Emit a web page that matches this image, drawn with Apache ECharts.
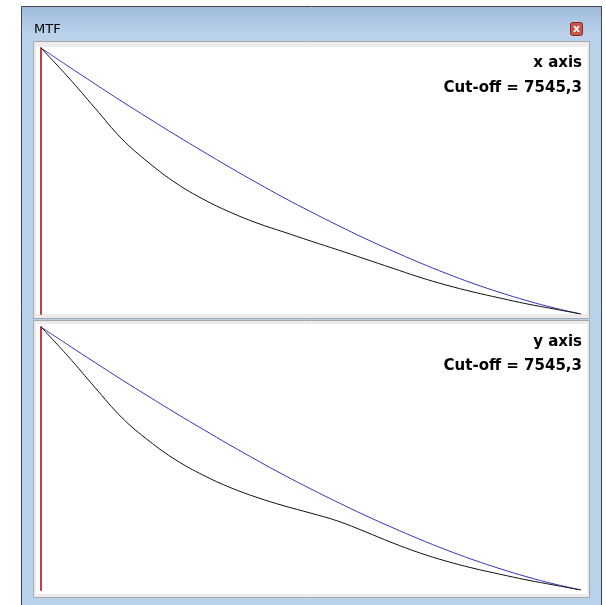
<!DOCTYPE html>
<html>
<head>
<meta charset="utf-8">
<script src="https://cdn.jsdelivr.net/npm/echarts@6/dist/echarts.min.js"></script>
<style>
html,body{margin:0;padding:0;background:#fff;}
#c{width:606px;height:605px;}
</style>
</head>
<body>
<div id="c"></div>
<script>
// normalized spatial frequency (fraction of cut-off)
var freq = [0,0.05,0.1,0.15,0.2,0.25,0.3,0.35,0.4,0.45,0.5,0.55,0.6,0.65,0.7,0.75,0.8,0.85,0.9,0.95,1.0];
// x axis panel
var xMeasured = [1.000,0.891,0.774,0.658,0.568,0.492,0.432,0.383,0.342,0.308,0.274,0.241,0.207,0.173,0.139,0.109,0.083,0.060,0.038,0.019,0.0];
var xIdeal    = [1.000,0.932,0.865,0.799,0.735,0.672,0.611,0.551,0.493,0.437,0.384,0.333,0.284,0.238,0.194,0.153,0.115,0.081,0.050,0.023,0.0];
// y axis panel
var yMeasured = [1.000,0.889,0.770,0.655,0.567,0.494,0.437,0.390,0.352,0.320,0.292,0.262,0.222,0.180,0.142,0.110,0.083,0.060,0.038,0.019,0.0];
var yIdeal    = [1.000,0.932,0.865,0.799,0.735,0.672,0.611,0.551,0.493,0.437,0.384,0.333,0.284,0.238,0.194,0.153,0.115,0.081,0.050,0.023,0.0];
var windowTitle = "MTF";
var panelTitles = ["x axis","y axis"];
var cutoffText = "Cut-off = 7545,3";

function pairs(a){ return freq.map(function(f,i){ return [f,a[i]]; }); }

var chart = echarts.init(document.getElementById('c'), null, {renderer:'canvas'});
var FONT = '"DejaVu Sans", sans-serif';

function xAx(i){ return {gridIndex:i,type:'value',min:0,max:1,show:false}; }
function yAx(i){ return {gridIndex:i,type:'value',min:0,max:1,
  axisLine:{show:true,lineStyle:{color:'#c44040',width:2}},axisTick:{show:false},
  axisLabel:{show:false},splitLine:{show:false}}; }

var option = {
  animation:false,
  backgroundColor:'#ffffff',
  grid:[
    {left:41,top:48,width:540,height:266},
    {left:41,top:327,width:540,height:263}
  ],
  xAxis:[xAx(0),xAx(1)],
  yAxis:[yAx(0),yAx(1)],
  graphic:[
    // window frame
    {type:'rect',z:-10,shape:{x:21.5,y:6.5,width:580,height:605},style:{fill:'#b9d1ea',stroke:'#444',lineWidth:1}},
    {type:'rect',z:-9,shape:{x:22,y:7,width:579,height:30},style:{fill:new echarts.graphic.LinearGradient(0,0,0,1,[{offset:0,color:'#9fbbdc'},{offset:1,color:'#bed4ec'}])}},
    {type:'text',z:5,style:{x:34,y:30,text:windowTitle,font:'13px "DejaVu Sans", sans-serif',fill:'#000',textVerticalAlign:'middle'}},
    // close button
    {type:'rect',z:5,shape:{x:570.5,y:22.5,width:12,height:13,r:2},style:{fill:'#c8574a',stroke:'#7a2a22',lineWidth:1}},
    {type:'text',z:6,style:{x:576.5,y:29,text:'x',font:'bold 11px "DejaVu Sans", sans-serif',fill:'#fff',textAlign:'center',textVerticalAlign:'middle'}},
    // panel 1
    {type:'rect',z:-8,shape:{x:33.5,y:41.5,width:556,height:277},style:{fill:'#ececec',stroke:'#a8a8a8',lineWidth:1}},
    {type:'rect',z:-7,shape:{x:36,y:47,width:551,height:267},style:{fill:'#ffffff'}},
    // panel 2
    {type:'rect',z:-8,shape:{x:33.5,y:320.5,width:556,height:277},style:{fill:'#ececec',stroke:'#a8a8a8',lineWidth:1}},
    {type:'rect',z:-7,shape:{x:36,y:324,width:551,height:270},style:{fill:'#ffffff'}},
    // texts
    {type:'text',z:5,style:{x:582,y:63,text:panelTitles[0],font:'bold 15px '+FONT,fill:'#000',textAlign:'right',textVerticalAlign:'middle'}},
    {type:'text',z:5,style:{x:582,y:88,text:cutoffText,font:'bold 15px '+FONT,fill:'#000',textAlign:'right',textVerticalAlign:'middle'}},
    {type:'text',z:5,style:{x:582,y:342,text:panelTitles[1],font:'bold 15px '+FONT,fill:'#000',textAlign:'right',textVerticalAlign:'middle'}},
    {type:'text',z:5,style:{x:582,y:366,text:cutoffText,font:'bold 15px '+FONT,fill:'#000',textAlign:'right',textVerticalAlign:'middle'}}
  ],
  series:[
    {type:'line',xAxisIndex:0,yAxisIndex:0,data:pairs(xIdeal),smooth:0.4,symbol:'none',lineStyle:{color:'#3434c0',width:1}},
    {type:'line',xAxisIndex:0,yAxisIndex:0,data:pairs(xMeasured),smooth:0.4,symbol:'none',lineStyle:{color:'#111',width:1}},
    {type:'line',xAxisIndex:1,yAxisIndex:1,data:pairs(yIdeal),smooth:0.4,symbol:'none',lineStyle:{color:'#3434c0',width:1}},
    {type:'line',xAxisIndex:1,yAxisIndex:1,data:pairs(yMeasured),smooth:0.4,symbol:'none',lineStyle:{color:'#111',width:1}}
  ]
};
chart.setOption(option);
</script>
</body>
</html>
